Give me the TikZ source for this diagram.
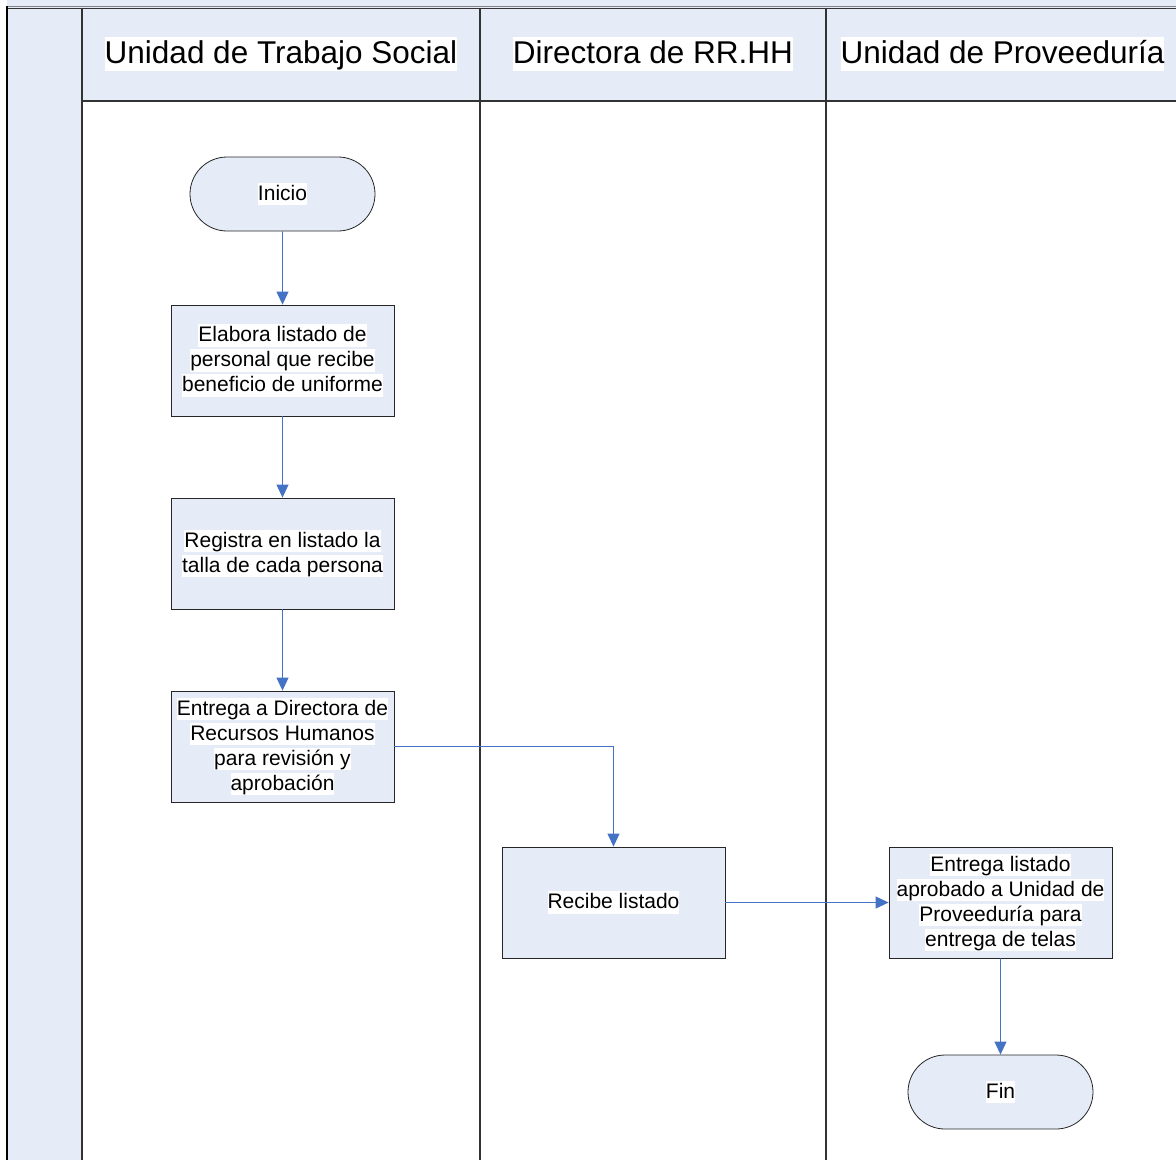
\documentclass[tikz,border=0pt]{standalone}
\usepackage{fontspec}
\setmainfont{Liberation Sans}
\usetikzlibrary{arrows.meta,shapes.misc}
\definecolor{lanefill}{HTML}{E6ECF7}
\definecolor{flow}{HTML}{4472C4}
\definecolor{laneline}{HTML}{333333}
% each printed line sits on its own white band
\newcommand\wl[1]{{\setlength\fboxsep{0pt}\colorbox{white}{\rule[-0.23em]{0pt}{1.07em}#1}}}
\begin{document}
\begin{tikzpicture}[x=1pt,y=-1pt,
  header/.style={inner sep=0pt, font=\fontsize{31.5}{38}\selectfont},
  process/.style={draw=black!85, line width=0.8pt, fill=lanefill, minimum width=223pt, minimum height=111pt,
    inner sep=0pt, align=center, font=\fontsize{21}{25}\selectfont},
  terminal/.style={rounded rectangle, draw=black!85, line width=0.8pt, fill=lanefill, minimum width=185pt,
    minimum height=74pt, inner sep=0pt, font=\fontsize{21}{25}\selectfont},
  flowline/.style={draw=flow, line width=0.9pt, -{Triangle[width=12pt,length=13pt]}}]
\useasboundingbox (0,0) rectangle (1176,1160);

% pool background
\fill[lanefill] (7,0) rectangle (1176,8);
\fill[lanefill] (7,8) rectangle (82,1160);
\fill[lanefill] (82,8) rectangle (1176,101);

% pool frame and lane dividers
\draw[gray, line width=1pt] (7,6) -- (1176,6);
\draw[laneline, line width=1.3pt] (7,8.3) -- (1176,8.3);
\draw[black, line width=1.6pt] (7,6) -- (7,1160);
\draw[laneline, line width=1.6pt] (82,8) -- (82,1160);
\draw[laneline, line width=1.6pt] (480,8) -- (480,1160);
\draw[laneline, line width=1.6pt] (826,8) -- (826,1160);
\draw[laneline, line width=1.2pt] (82,101) -- (1176,101);

% lane titles
\node[header] (h1) at (281,54) {\wl{Unidad de Trabajo Social}};
\node[header] (h2) at (653,54) {\wl{Directora de RR.HH}};
\node[header] (h3) at (1002.5,54) {\wl{Unidad de Proveeduría}};

% flow steps
\node[terminal] (ini) at (282.5,194) {\wl{Inicio}};
\node[process] (p1) at (282.5,360.5) {\wl{Elabora listado de}\\\wl{personal que recibe}\\\wl{beneficio de uniforme}};
\node[process] (p2) at (282.5,553.5) {\wl{Registra en listado la}\\\wl{talla de cada persona}};
\node[process] (p3) at (282.5,746.5) {\wl{Entrega a Directora de}\\\wl{Recursos Humanos}\\\wl{para revisión y}\\\wl{aprobación}};
\node[process] (p4) at (613.5,902.5) {\wl{Recibe listado}};
\node[process] (p5) at (1000.5,902.5) {\wl{Entrega listado}\\\wl{aprobado a Unidad de}\\\wl{Proveeduría para}\\\wl{entrega de telas}};
\node[terminal] (fin) at (1000.5,1092) {\wl{Fin}};

% connectors
\draw[flowline] (ini) -- (p1);
\draw[flowline] (p1) -- (p2);
\draw[flowline] (p2) -- (p3);
\draw[flowline] (p3.east) -| (p4.north);
\draw[flowline] (p4) -- (p5);
\draw[flowline] (p5) -- (fin);
\end{tikzpicture}
\end{document}
